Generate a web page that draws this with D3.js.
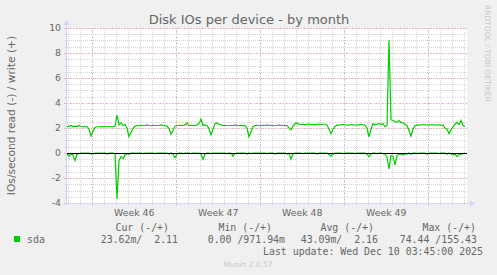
<!DOCTYPE html>
<html>
<head>
<meta charset="utf-8">
<script src="https://cdn.jsdelivr.net/npm/d3@7"></script>
<style>
  body { margin: 0; background: #f0f0f0; }
  svg { display: block; }
  text { font-family: "DejaVu Sans", sans-serif; fill: #666666; }
  .mono { font-family: "DejaVu Sans Mono", monospace; white-space: pre; }
  .grid line { shape-rendering: crispEdges; }
</style>
</head>
<body>
<div id="chart"></div>
<script>
// time axis: one sample every 4 hours, first sample at the left edge of the canvas
var startTime = Date.UTC(2025, 10, 7, 21, 24);
var stepHours = 4;
var spanHours = 800;

// write (+) IOs/second
var writeValues = [
  2.10, 2.15, 2.20, 2.10, 2.15, 2.12, 2.20, 2.10, 2.10, 2.12, 2.10, 1.90, 1.36, 1.75, 2.05, 2.10, 2.10, 2.12, 2.10, 2.12,
  2.10, 2.10, 2.12, 2.10, 2.15, 3.04, 2.25, 2.40, 2.20, 2.30, 2.00, 1.30, 1.65, 1.95, 2.15, 2.20, 2.18, 2.22, 2.20, 2.20,
  2.25, 2.20, 2.18, 2.22, 2.20, 2.20, 2.22, 2.25, 2.20, 2.18, 2.15, 1.95, 1.50, 1.80, 2.15, 2.20, 2.20, 2.22, 2.20, 2.25,
  2.40, 2.20, 2.22, 2.20, 2.20, 2.25, 2.35, 2.70, 2.20, 2.25, 2.20, 1.95, 1.45, 1.90, 2.35, 2.40, 2.30, 2.25, 2.20, 2.22,
  2.20, 2.18, 2.22, 2.20, 2.25, 2.20, 2.20, 2.22, 2.18, 2.20, 2.00, 1.30, 1.70, 2.10, 2.20, 2.22, 2.18, 2.20, 2.22, 2.20,
  2.25, 2.20, 2.22, 2.18, 2.20, 2.22, 2.25, 2.20, 2.20, 2.22, 2.20, 2.00, 1.85, 2.15, 2.35, 2.40, 2.30, 2.28, 2.30, 2.25,
  2.30, 2.32, 2.28, 2.30, 2.25, 2.30, 2.32, 2.28, 2.30, 2.30, 2.25, 1.90, 1.55, 1.90, 2.10, 2.25, 2.22, 2.25, 2.28, 2.25,
  2.22, 2.25, 2.28, 2.25, 2.22, 2.25, 2.25, 2.28, 2.25, 2.22, 2.00, 1.30, 1.90, 2.35, 2.25, 2.30, 2.35, 2.30, 2.35, 2.10,
  2.20, 9.02, 2.65, 2.60, 2.50, 2.45, 2.60, 2.45, 2.40, 2.30, 2.20, 1.80, 1.36, 1.90, 2.20, 2.25, 2.22, 2.25, 2.28, 2.25,
  2.22, 2.25, 2.25, 2.28, 2.22, 2.25, 2.25, 2.22, 2.25, 2.00, 1.90, 1.55, 1.85, 2.10, 2.30, 2.45, 2.30, 2.60, 2.20, 2.10
];

// read (-) IOs/second, drawn below zero
var readValues = [
  0.10, 0.25, 0.05, 0.15, 0.60, 0.10, 0.05, 0, 0, 0, 0, 0, 0.08, 0.08, 0, 0, 0, 0, 0, 0,
  0.08, 0, 0, 0, 0.05, 3.68, 0.60, 0.30, 0.45, 0.15, 0.05, 0.10, 0, 0, 0, 0, 0, 0, 0.05, 0,
  0, 0, 0, 0, 0.05, 0, 0, 0, 0, 0, 0, 0.08, 0, 0.10, 0.38, 0.08, 0, 0, 0.05, 0,
  0, 0, 0.05, 0, 0, 0, 0, 0.10, 0.50, 0.08, 0, 0, 0.05, 0, 0, 0, 0, 0, 0, 0,
  0.05, 0, 0, 0.25, 0.05, 0, 0, 0, 0, 0, 0.08, 0, 0.05, 0, 0, 0, 0, 0, 0, 0,
  0.05, 0, 0, 0, 0.08, 0, 0, 0, 0, 0, 0.08, 0, 0.50, 0.08, 0, 0, 0, 0, 0.05, 0,
  0, 0, 0, 0, 0, 0.08, 0, 0, 0, 0, 0, 0.10, 0.25, 0.08, 0, 0, 0, 0, 0.05, 0,
  0, 0, 0, 0, 0.05, 0, 0, 0, 0, 0, 0.10, 0.30, 0.10, 0, 0, 0.05, 0, 0, 0.05, 0.10,
  0.30, 1.28, 0.20, 0.25, 0.94, 0.20, 0.10, 0.08, 0.15, 0.08, 0.08, 0, 0.10, 0, 0, 0.05, 0, 0, 0, 0,
  0.10, 0, 0, 0, 0, 0, 0.05, 0, 0, 0, 0.10, 0, 0.08, 0.15, 0.10, 0.27, 0.15, 0.10, 0.05, 0
];

var yTicks = [-4, -2, 0, 2, 4, 6, 8, 10];
var weekLabels = ["Week 46", "Week 47", "Week 48", "Week 49"];
var weekLabelDates = [
  Date.UTC(2025, 10, 13, 12), Date.UTC(2025, 10, 20, 12),
  Date.UTC(2025, 10, 27, 12), Date.UTC(2025, 11, 4, 12)
];

var legendName = "sda";
var legendHeaders = ["Cur (-/+)", "Min (-/+)", "Avg (-/+)", "Max (-/+)"];
var legendValues = ["23.62m/  2.11", "0.00 /971.94m", "43.09m/  2.16", "74.44 /155.43"];
var lastUpdate = "Last update: Wed Dec 10 03:45:00 2025";

var svgWidth = 497;
var svgHeight = 275;
var margin = { top: 28, right: 30, bottom: 72, left: 67 };
var width = svgWidth - margin.left - margin.right;   // 400
var height = svgHeight - margin.top - margin.bottom; // 175

var lineColor = "#00cc00";
var axisColor = "#cfd6f8";
var gridColor = "#d6d6d6";
var majorGridColor = "#f2a8a8";

var svg = d3.select("#chart")
  .append("svg")
  .attr("width", svgWidth)
  .attr("height", svgHeight);

svg.append("rect")
  .attr("width", svgWidth)
  .attr("height", svgHeight)
  .attr("fill", "#f0f0f0");

var chartGroup = svg.append("g")
  .attr("transform", `translate(${margin.left}, ${margin.top})`);

var xStart = new Date(startTime);
var xEnd = new Date(startTime + spanHours * 3600e3);

var xScale = d3.scaleUtc()
  .domain([xStart, xEnd])
  .range([0, width]);

var yScale = d3.scaleLinear()
  .domain([-4, 10])
  .range([height, 0]);

// canvas
chartGroup.append("rect")
  .attr("width", width)
  .attr("height", height)
  .attr("fill", "#ffffff");

// minor grid
var days = d3.utcDay.range(xStart, xEnd);
var mondays = d3.utcMonday.range(xStart, xEnd);
var minorY = d3.range(-4, 10.01, 0.5);

var grid = chartGroup.append("g").classed("grid", true);

grid.append("g").selectAll("line")
  .data(days)
  .enter()
  .append("line")
  .attr("x1", d => Math.round(xScale(d)) + 0.5)
  .attr("x2", d => Math.round(xScale(d)) + 0.5)
  .attr("y1", 0)
  .attr("y2", height + 2)
  .attr("stroke", gridColor)
  .attr("stroke-dasharray", "1,1");

grid.append("g").selectAll("line")
  .data(minorY)
  .enter()
  .append("line")
  .attr("x1", -2)
  .attr("x2", width)
  .attr("y1", d => Math.round(yScale(d)) + 0.5)
  .attr("y2", d => Math.round(yScale(d)) + 0.5)
  .attr("stroke", gridColor)
  .attr("stroke-dasharray", "1,1");

// major grid
grid.append("g").selectAll("line")
  .data(mondays)
  .enter()
  .append("line")
  .attr("x1", d => Math.round(xScale(d)) + 0.5)
  .attr("x2", d => Math.round(xScale(d)) + 0.5)
  .attr("y1", 0)
  .attr("y2", height + 3)
  .attr("stroke", majorGridColor)
  .attr("stroke-dasharray", "1,2");

grid.append("g").selectAll("line")
  .data(yTicks)
  .enter()
  .append("line")
  .attr("x1", -3)
  .attr("x2", width)
  .attr("y1", d => Math.round(yScale(d)) + 0.5)
  .attr("y2", d => Math.round(yScale(d)) + 0.5)
  .attr("stroke", majorGridColor)
  .attr("stroke-dasharray", "1,2");

// axes with arrows
chartGroup.append("line")
  .attr("x1", -0.5).attr("x2", -0.5)
  .attr("y1", height + 2).attr("y2", -4)
  .attr("stroke", axisColor);
chartGroup.append("path")
  .attr("d", "M-3.5,-3 L2.5,-3 L-0.5,-8 Z")
  .attr("fill", axisColor);

chartGroup.append("line")
  .attr("x1", -2).attr("x2", width + 4)
  .attr("y1", height + 0.5).attr("y2", height + 0.5)
  .attr("stroke", axisColor);
chartGroup.append("path")
  .attr("d", `M${width + 3},${height - 2.5} L${width + 3},${height + 3.5} L${width + 8},${height + 0.5} Z`)
  .attr("fill", axisColor);

// y tick labels
chartGroup.append("g").selectAll("text")
  .data(yTicks)
  .enter()
  .append("text")
  .attr("x", -6)
  .attr("y", d => yScale(d))
  .attr("dy", "0.35em")
  .attr("text-anchor", "end")
  .style("font-size", "9.33px")
  .text(d => d);

// x week labels
chartGroup.append("g").selectAll("text")
  .data(weekLabels)
  .enter()
  .append("text")
  .attr("x", (d, i) => xScale(new Date(weekLabelDates[i])))
  .attr("y", height + 13)
  .attr("text-anchor", "middle")
  .style("font-size", "9.33px")
  .text(d => d);

// series
var writeLine = d3.line()
  .x((d, i) => xScale(new Date(startTime + i * stepHours * 3600e3)))
  .y(d => yScale(d));

var readLine = d3.line()
  .x((d, i) => xScale(new Date(startTime + i * stepHours * 3600e3)))
  .y(d => yScale(-d));

chartGroup.append("path")
  .datum(readValues)
  .attr("d", readLine)
  .attr("fill", "none")
  .attr("stroke", lineColor)
  .attr("stroke-width", 1.2);

chartGroup.append("path")
  .datum(writeValues)
  .attr("d", writeLine)
  .attr("fill", "none")
  .attr("stroke", lineColor)
  .attr("stroke-width", 1.2);

// zero rule
chartGroup.append("line")
  .attr("x1", 0).attr("x2", width)
  .attr("y1", Math.round(yScale(0)) + 0.5).attr("y2", Math.round(yScale(0)) + 0.5)
  .attr("stroke", "#000000");

// title and axis label
svg.append("text")
  .attr("x", 249)
  .attr("y", 24)
  .attr("text-anchor", "middle")
  .style("font-size", "13px")
  .text("Disk IOs per device - by month");

svg.append("text")
  .attr("transform", `translate(15, ${margin.top + height / 2}) rotate(-90)`)
  .attr("text-anchor", "middle")
  .style("font-size", "10.67px")
  .text("IOs/second read (-) / write (+)");

svg.append("text")
  .attr("transform", "translate(485, 5) rotate(90)")
  .attr("text-anchor", "start")
  .style("font-size", "7.5px")
  .style("fill", "#c8c8c8")
  .text("RRDTOOL / TOBI OETIKER");

// legend
var headerRight = [169, 272, 374, 476];
var valueRight = [178, 285, 378, 477];

svg.append("g").selectAll("text")
  .data(legendHeaders)
  .enter()
  .append("text")
  .classed("mono", true)
  .attr("x", (d, i) => headerRight[i])
  .attr("y", 231)
  .attr("text-anchor", "end")
  .style("font-size", "9.9px")
  .text(d => d);

svg.append("rect")
  .attr("x", 14)
  .attr("y", 236)
  .attr("width", 6)
  .attr("height", 6)
  .attr("fill", lineColor);

svg.append("text")
  .classed("mono", true)
  .attr("x", 27)
  .attr("y", 243)
  .style("font-size", "9.9px")
  .text(legendName);

svg.append("g").selectAll("text")
  .data(legendValues)
  .enter()
  .append("text")
  .classed("mono", true)
  .attr("x", (d, i) => valueRight[i])
  .attr("y", 243)
  .attr("text-anchor", "end")
  .style("font-size", "9.9px")
  .text(d => d);

svg.append("text")
  .classed("mono", true)
  .attr("x", 483)
  .attr("y", 255)
  .attr("text-anchor", "end")
  .style("font-size", "9.9px")
  .text(lastUpdate);

svg.append("text")
  .attr("x", 248)
  .attr("y", 267)
  .attr("text-anchor", "middle")
  .style("font-size", "7.5px")
  .style("fill", "#c8c8c8")
  .text("Munin 2.0.57");
</script>
</body>
</html>
